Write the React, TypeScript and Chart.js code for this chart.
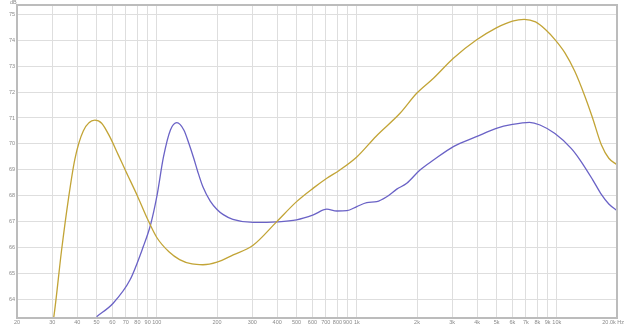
import { useEffect, useRef } from "react";
import { Chart, registerables } from "chart.js";

Chart.register(...registerables);

const xTickValues = [20, 30, 40, 50, 60, 70, 80, 90, 100, 200, 300, 400, 500, 600, 700, 800, 900, 1000, 2000, 3000, 4000, 5000, 6000, 7000, 8000, 9000, 10000, 20000];
const xTickLabels = ["20", "30", "40", "50", "60", "70", "80", "90", "100", "200", "300", "400", "500", "600", "700", "800", "900", "1k", "2k", "3k", "4k", "5k", "6k", "7k", "8k", "9k", "10k", "20.0k Hz"];
const yTickValues = [64, 65, 66, 67, 68, 69, 70, 71, 72, 73, 74, 75];

const yellowFreq = [29.6, 30.5, 33.4, 36.1, 38.9, 42.9, 49, 53, 58, 64, 70, 80, 90, 100, 115, 130, 150, 170, 200, 241, 303, 397, 500, 606, 708, 823, 1000, 1250, 1645, 1993, 2418, 3040, 3960, 4985, 6000, 6870, 7830, 8800, 9790, 11000, 12300, 13800, 15070, 16700, 18200, 20000];
const yellowDb = [62.8, 63.3, 65.9, 67.85, 69.4, 70.5, 70.92, 70.8, 70.3, 69.6, 68.95, 68.0, 67.1, 66.4, 65.85, 65.55, 65.38, 65.35, 65.45, 65.73, 66.1, 67.0, 67.78, 68.3, 68.68, 69.0, 69.5, 70.3, 71.18, 71.95, 72.53, 73.3, 74.0, 74.47, 74.73, 74.8, 74.7, 74.4, 74.02, 73.5, 72.8, 71.85, 71.02, 69.97, 69.45, 69.2];

const blueFreq = [50, 60.5, 73.5, 85.6, 93, 100, 108, 117, 126, 136.5, 145, 153, 160, 170, 185, 200, 215, 240, 303, 397, 500, 606, 708, 795, 892, 1000, 1122, 1259, 1412, 1585, 1778, 2070, 2418, 3040, 3960, 4985, 6000, 7300, 8240, 9790, 11800, 13000, 15070, 16700, 18200, 20000];
const blueDb = [63.35, 63.87, 64.77, 66.05, 66.88, 67.97, 69.5, 70.54, 70.82, 70.54, 70.0, 69.45, 68.95, 68.35, 67.8, 67.48, 67.28, 67.1, 66.98, 67.0, 67.08, 67.27, 67.49, 67.42, 67.43, 67.59, 67.74, 67.78, 67.97, 68.26, 68.49, 69.0, 69.38, 69.9, 70.28, 70.6, 70.75, 70.83, 70.73, 70.4, 69.83, 69.41, 68.64, 68.06, 67.69, 67.44];

const toPoints = (xs: number[], ys: number[]) => xs.map((x, i) => ({ x, y: ys[i] }));

const lastLabel = xTickLabels[xTickLabels.length - 1];

const framePlugin = {
  id: "frame",
  afterDraw(chart: any) {
    const { ctx, chartArea } = chart;
    ctx.save();
    ctx.strokeStyle = "#bcbcbc";
    ctx.lineWidth = 2;
    ctx.strokeRect(chartArea.left, chartArea.top, chartArea.right - chartArea.left, chartArea.bottom - chartArea.top);
    ctx.fillStyle = "#8a8a8a";
    ctx.font = "5.5px 'Liberation Sans', Arial, sans-serif";
    ctx.textAlign = "left";
    ctx.textBaseline = "top";
    ctx.fillText("dB", 10, 0);
    ctx.textAlign = "right";
    ctx.textBaseline = "top";
    ctx.fillText(lastLabel, 624, chartArea.bottom + 2);
    ctx.restore();
  },
};

export default function App() {
  const ref = useRef<HTMLCanvasElement | null>(null);
  useEffect(() => {
    if (!ref.current) return;
    const chart = new Chart(ref.current, {
      type: "line",
      data: {
        datasets: [
          {
            data: toPoints(yellowFreq, yellowDb),
            borderColor: "#c2a436",
            borderWidth: 1.3,
            pointRadius: 0,
            fill: false,
            cubicInterpolationMode: "monotone",
          },
          {
            data: toPoints(blueFreq, blueDb),
            borderColor: "#6a62c6",
            borderWidth: 1.3,
            pointRadius: 0,
            fill: false,
            cubicInterpolationMode: "monotone",
          },
        ],
      },
      options: {
        animation: false,
        responsive: false,
        maintainAspectRatio: false,
        layout: { padding: { left: 0, top: 5, right: 8, bottom: 0 } },
        plugins: { legend: { display: false }, tooltip: { enabled: false } },
        scales: {
          x: {
            type: "logarithmic",
            min: 20,
            max: 20000,
            afterBuildTicks: (scale: any) => {
              scale.ticks = xTickValues.map((v) => ({ value: v }));
            },
            afterFit: (scale: any) => {
              scale.height = 9;
              scale.paddingLeft = 0;
              scale.paddingRight = 0;
            },
            ticks: {
              autoSkip: false,
              maxRotation: 0,
              minRotation: 0,
              padding: 1,
              color: "#8a8a8a",
              font: { size: 5.5, family: "'Liberation Sans', Arial, sans-serif" },
              callback: (value: any) => {
                const i = xTickValues.indexOf(Number(value));
                if (i === xTickValues.length - 1) return "";
                return i >= 0 ? xTickLabels[i] : "";
              },
            },
            grid: { color: "#dedede", lineWidth: 1, drawTicks: false },
            border: { display: false },
          },
          y: {
            type: "linear",
            min: 63.3,
            max: 75.35,
            afterBuildTicks: (scale: any) => {
              scale.ticks = yTickValues.map((v) => ({ value: v }));
            },
            afterFit: (scale: any) => {
              scale.width = 17;
              scale.paddingTop = 0;
              scale.paddingBottom = 0;
            },
            ticks: {
              padding: 2,
              color: "#8a8a8a",
              font: { size: 5.5, family: "'Liberation Sans', Arial, sans-serif" },
              callback: (value: any) => String(value),
            },
            grid: { color: "#dedede", lineWidth: 1, drawTicks: false },
            border: { display: false },
          },
        },
      },
      plugins: [framePlugin],
    });
    return () => chart.destroy();
  }, []);
  return (
    <div style={{ position: "fixed", left: 0, top: 0, width: 625, height: 327, background: "#ffffff" }}>
      <canvas ref={ref} width={625} height={327} style={{ display: "block", width: 625, height: 327 }} />
    </div>
  );
}
